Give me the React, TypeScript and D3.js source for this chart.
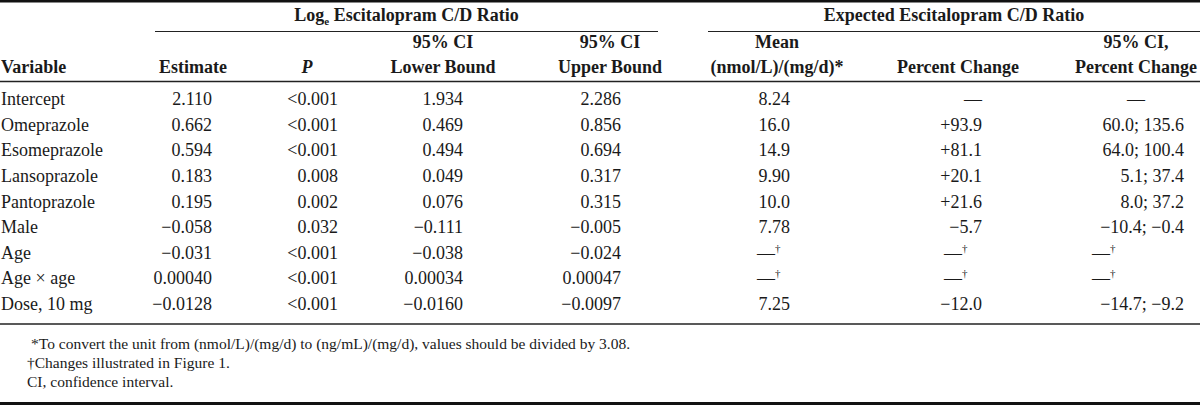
import React from "react";
import * as d3 from "d3";

// ---------------- data ----------------
const variables = [
  "Intercept",
  "Omeprazole",
  "Esomeprazole",
  "Lansoprazole",
  "Pantoprazole",
  "Male",
  "Age",
  "Age × age",
  "Dose, 10 mg",
];
const estimate = ["2.110", "0.662", "0.594", "0.183", "0.195", "−0.058", "−0.031", "0.00040", "−0.0128"];
const pValue = ["<0.001", "<0.001", "<0.001", "0.008", "0.002", "0.032", "<0.001", "<0.001", "<0.001"];
const ciLower = ["1.934", "0.469", "0.494", "0.049", "0.076", "−0.111", "−0.038", "0.00034", "−0.0160"];
const ciUpper = ["2.286", "0.856", "0.694", "0.317", "0.315", "−0.005", "−0.024", "0.00047", "−0.0097"];
const meanRatio = ["8.24", "16.0", "14.9", "9.90", "10.0", "7.78", "—†", "—†", "7.25"];
const pctChange = ["—", "+93.9", "+81.1", "+20.1", "+21.6", "−5.7", "—†", "—†", "−12.0"];
const pctCI = ["—", "60.0; 135.6", "64.0; 100.4", "5.1; 37.4", "8.0; 37.2", "−10.4; −0.4", "—†", "—†", "−14.7; −9.2"];

const groupTitles = ["Log_e Escitalopram C/D Ratio", "Expected Escitalopram C/D Ratio"];
const headVariable = "Variable";
const headers = [
  ["Estimate"],
  ["P"],
  ["95% CI", "Lower Bound"],
  ["95% CI", "Upper Bound"],
  ["Mean", "(nmol/L)/(mg/d)*"],
  ["Percent Change"],
  ["95% CI,", "Percent Change"],
];
const footnotes = [
  "*To convert the unit from (nmol/L)/(mg/d) to (ng/mL)/(mg/d), values should be divided by 3.08.",
  "†Changes illustrated in Figure 1.",
  "CI, confidence interval.",
];

// ---------------- layout (separate from data) ----------------
const W = 1200;
const H = 405;
const FONT = "'Liberation Serif', 'Times New Roman', Times, serif";
const INK = "#1a1a1a";

const colLayout = [
  { center: 193, right: 212, left: 168, dash: "end" },
  { center: 307, right: 338, left: 282, dash: "end" },
  { center: 443, right: 463, left: 420, dash: "end" },
  { center: 610, right: 621, left: 578, dash: "end" },
  { center: 777, right: 790, left: 757, dash: "end" },
  { center: 958, right: 982, left: 944, dash: "end" },
  { center: 1136, right: 1184, left: 1092, dash: "middle" },
];
const groupSpans = [
  [155, 658],
  [708, 1200],
];

export default function App() {
  const columns = [estimate, pValue, ciLower, ciUpper, meanRatio, pctChange, pctCI];
  const y = d3.scalePoint<string>().domain(variables).range([105, 310]);
  const fy = d3.scalePoint<number>().domain(footnotes.map((_, i) => i)).range([349, 387]);

  const renderCell = (val: string, ci: number, row: string) => {
    const L = colLayout[ci];
    const yy = y(row)!;
    if (val === "—†") {
      return (
        <text key={ci + row} x={L.left} y={yy} textAnchor="start">
          —<tspan fontSize={11} dy={-7}>†</tspan>
        </text>
      );
    }
    if (val === "—") {
      return (
        <text key={ci + row} x={L.dash === "middle" ? L.center : L.right} y={yy} textAnchor={L.dash}>
          —
        </text>
      );
    }
    return (
      <text key={ci + row} x={L.right} y={yy} textAnchor="end">
        {val}
      </text>
    );
  };

  const renderGroupTitle = (t: string, i: number) => {
    const [a, b] = groupSpans[i];
    const cx = (a + b) / 2;
    if (t.includes("_e")) {
      const [pre, post] = t.split("_e");
      return (
        <text key={i} x={cx} y={21} textAnchor="middle" fontWeight="bold">
          {pre}
          <tspan fontSize={11} dy={4}>e</tspan>
          <tspan dy={-4}>{post}</tspan>
        </text>
      );
    }
    return (
      <text key={i} x={cx} y={21} textAnchor="middle" fontWeight="bold">
        {t}
      </text>
    );
  };

  return (
    <svg
      width={W}
      height={H}
      viewBox={`0 0 ${W} ${H}`}
      style={{ position: "absolute", left: 0, top: 0, display: "block", background: "#fff" }}
      fontFamily={FONT}
      fontSize={18}
      fill={INK}
    >
      <rect x={0} y={0} width={W} height={H} fill="#fff" />
      {/* rules */}
      <line x1={0} x2={W} y1={1.2} y2={1.2} stroke="#111" strokeWidth={2.4} />
      {groupSpans.map(([a, b], i) => (
        <line key={i} x1={a} x2={b} y1={31.5} y2={31.5} stroke="#222" strokeWidth={1.2} />
      ))}
      <line x1={0} x2={W} y1={81.5} y2={81.5} stroke="#222" strokeWidth={1.3} />
      <line x1={0} x2={W} y1={324} y2={324} stroke="#222" strokeWidth={1.3} />
      <line x1={0} x2={W} y1={403.5} y2={403.5} stroke="#111" strokeWidth={3} />

      {/* group titles */}
      {groupTitles.map(renderGroupTitle)}

      {/* column headers */}
      <text x={1} y={73} fontWeight="bold">
        {headVariable}
      </text>
      {headers.map((lines, ci) => {
        const L = colLayout[ci];
        const ys = lines.length === 2 ? [48, 73] : [73];
        return lines.map((ln, li) => (
          <text
            key={ci + "-" + li}
            x={L.center}
            y={ys[li]}
            textAnchor="middle"
            fontWeight="bold"
            fontStyle={ln === "P" ? "italic" : "normal"}
          >
            {ln}
          </text>
        ));
      })}

      {/* body */}
      {variables.map((v) => (
        <text key={v} x={1} y={y(v)!}>
          {v}
        </text>
      ))}
      {columns.map((vals, ci) => vals.map((val, ri) => renderCell(val, ci, variables[ri])))}

      {/* footnotes */}
      {footnotes.map((f, i) => (
        <text key={i} x={i === 0 ? 31 : 27} y={fy(i)!} fontSize={15.5}>
          {f}
        </text>
      ))}
    </svg>
  );
}
